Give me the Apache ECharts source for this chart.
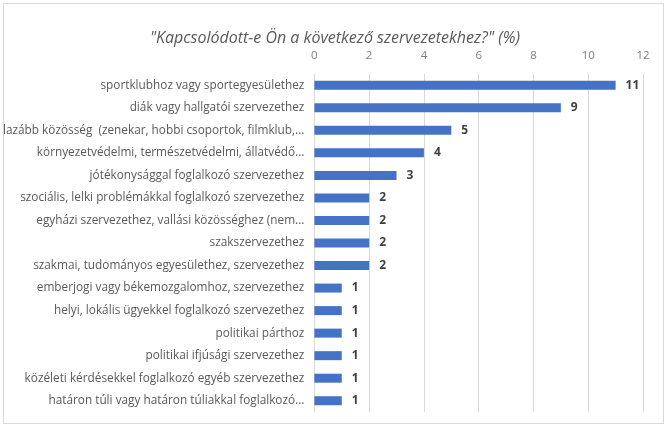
<!DOCTYPE html>
<html>
<head>
<meta charset="utf-8">
<script src="https://cdn.jsdelivr.net/npm/echarts@6/dist/echarts.min.js"></script>
<style>
    html, body { margin: 0; padding: 0; background: #fff; }
    #frame {
        position: absolute; left: 3px; top: 3px; width: 661px; height: 421px;
        border: 1px solid #d9d9d9; box-sizing: border-box;
    }
    #chart { width: 670px; height: 431px; position: absolute; left: 0; top: 0; }
</style>
</head>
<body>
<div id="frame"></div>
<div id="chart"></div>
<script>
// kategóriák (felülről lefelé)
const categories = [
    'sportklubhoz vagy sportegyesülethez',
    'diák vagy hallgatói szervezethez',
    'lazább közösség  (zenekar, hobbi csoportok, filmklub,...',
    'környezetvédelmi, természetvédelmi, állatvédő...',
    'jótékonysággal foglalkozó szervezethez',
    'szociális, lelki problémákkal foglalkozó szervezethez',
    'egyházi szervezethez, vallási közösséghez (nem...',
    'szakszervezethez',
    'szakmai, tudományos egyesülethez, szervezethez',
    'emberjogi vagy békemozgalomhoz, szervezethez',
    'helyi, lokális ügyekkel foglalkozó szervezethez',
    'politikai párthoz',
    'politikai ifjúsági szervezethez',
    'közéleti kérdésekkel foglalkozó egyéb szervezethez',
    'határon túli vagy határon túliakkal foglalkozó...'
]

const values = [11, 9, 5, 4, 3, 2, 2, 2, 2, 1, 1, 1, 1, 1, 1]

const axisTicks = { min: 0, max: 12, interval: 2 }

const FONT = '"Open Sans", "Liberation Sans", sans-serif'

const chart = echarts.init(document.getElementById('chart'))

chart.setOption({
    animation: false,
    backgroundColor: 'transparent',
    title: {
        text: '"Kapcsolódott-e Ön a következő szervezetekhez?" (%)',
        left: 'center',
        top: 25,
        textStyle: {
            color: '#595959',
            fontFamily: FONT,
            fontStyle: 'italic',
            fontWeight: 'normal',
            fontSize: 16,
        },
    },
    grid: {
        left: 314,
        right: 27,
        top: 74,
        bottom: 19,
        containLabel: false,
    },
    xAxis: {
        type: 'value',
        position: 'top',
        min: axisTicks.min,
        max: axisTicks.max,
        interval: axisTicks.interval,
        axisLine: { show: false },
        axisTick: { show: false },
        axisLabel: {
            color: '#7f7f7f',
            fontFamily: FONT,
            fontSize: 11.5,
            margin: 12,
        },
        splitLine: {
            lineStyle: { color: '#d9d9d9', width: 1 },
        },
    },
    yAxis: {
        type: 'category',
        data: categories,
        inverse: true,
        axisLine: { show: true, lineStyle: { color: '#d9d9d9' } },
        axisTick: { show: false },
        axisLabel: {
            color: '#595959',
            fontFamily: FONT,
            fontSize: 11.8,
            margin: 10,
        },
    },
    series: [
        {
            type: 'bar',
            data: values,
            barWidth: 9,
            itemStyle: { color: '#4472c4' },
            label: {
                show: true,
                position: 'right',
                distance: 10,
                color: '#404040',
                fontFamily: FONT,
                fontWeight: 'bold',
                fontSize: 12,
            },
        },
    ],
})
</script>
</body>
</html>
